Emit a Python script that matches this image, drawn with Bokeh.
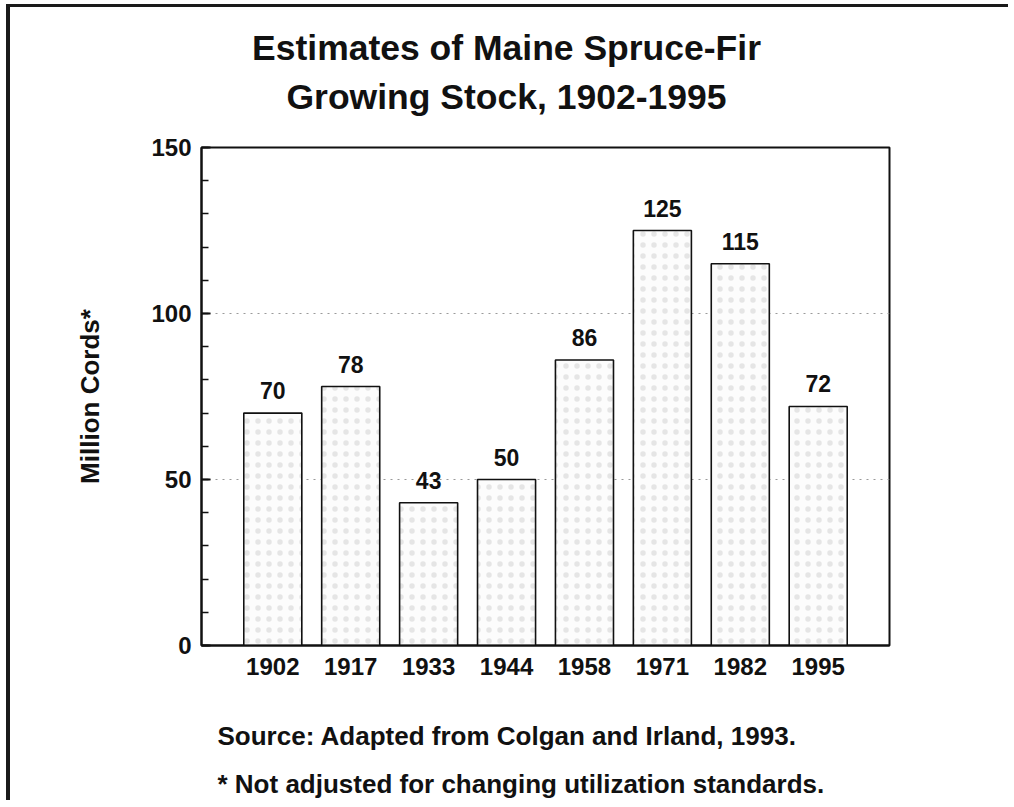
from bokeh.plotting import figure
from bokeh.models import FactorRange, Range1d, SingleIntervalTicker, ColumnDataSource
from bokeh.layouts import column
from bokeh.core.properties import value
from bokeh.embed import file_html
from bokeh.resources import INLINE

years = ["1902", "1917", "1933", "1944", "1958", "1971", "1982", "1995"]
cords = [70, 78, 43, 50, 86, 125, 115, 72]
labels = [str(v) for v in cords]

title_lines = ["Estimates of Maine Spruce-Fir", "Growing Stock, 1902-1995"]
y_label = "Million Cords*"
notes = ["Source:  Adapted from Colgan and Irland, 1993.",
         "* Not adjusted for changing utilization standards."]

FONT = "Liberation Sans"
INK = "#111111"
W = 998
LEFT, RIGHT = 191, 119
TOP = 18
HEAD_H, MAIN_H, FOOT_H = 122, 566, 105


def text_panel(h):
    f = figure(width=W, height=h, x_range=Range1d(LEFT, W - RIGHT), y_range=Range1d(0, h),
               min_border_left=LEFT, min_border_right=RIGHT, min_border_top=0, min_border_bottom=0,
               output_backend="svg", toolbar_location=None)
    f.axis.visible = False
    f.grid.grid_line_color = None
    f.outline_line_color = None
    f.background_fill_color = "white"
    f.border_fill_color = "white"
    return f


# ---- title panel ----
head = text_panel(HEAD_H)
head.text(x=[496, 496], y=[HEAD_H - 40, HEAD_H - 89], text=title_lines,
          text_align="center", text_baseline="middle",
          text_font=value(FONT), text_font_style="bold", text_font_size="35.5px",
          text_color=INK)

# ---- main chart ----
p = figure(
    x_range=FactorRange(factors=years, range_padding=0.415, range_padding_units="absolute"),
    y_range=Range1d(0, 150),
    width=W, height=MAIN_H,
    min_border_left=LEFT, min_border_top=TOP, min_border_right=RIGHT, min_border_bottom=50,
    output_backend="svg", toolbar_location=None,
)
p.background_fill_color = "white"
p.border_fill_color = "white"
p.outline_line_color = INK
p.outline_line_width = 2

src = ColumnDataSource(dict(x=years, top=cords, lab=labels))
p.vbar(x="x", top="top", width=0.745, source=src,
       fill_color="#fcfcfc", line_color=INK, line_width=1.6,
       hatch_pattern="dot", hatch_color="#a0a0a0", hatch_scale=11, hatch_alpha=0.25)
p.text(x="x", y="top", text="lab", source=src, y_offset=-14,
       text_align="center", text_baseline="bottom",
       text_font=value(FONT), text_font_style="bold", text_font_size="23px", text_color=INK)

p.xgrid.grid_line_color = None
p.ygrid.grid_line_color = "#9a9a9a"
p.ygrid.grid_line_dash = "2 5"
p.ygrid.grid_line_width = 1.2

yax = p.yaxis[0]
yax.ticker = SingleIntervalTicker(interval=50, num_minor_ticks=5)
yax.major_tick_in = 9
yax.major_tick_out = 0
yax.minor_tick_in = 7
yax.minor_tick_out = 0
yax.axis_line_width = 2
yax.major_tick_line_width = 2
yax.minor_tick_line_width = 1.5
yax.axis_line_color = INK
yax.major_tick_line_color = INK
yax.minor_tick_line_color = INK
yax.major_label_standoff = 10
yax.major_label_text_font = FONT
yax.major_label_text_font_style = "bold"
yax.major_label_text_font_size = "24px"
yax.major_label_text_color = INK
yax.axis_label = y_label
yax.axis_label_standoff = 43
yax.axis_label_text_font = FONT
yax.axis_label_text_font_style = "bold"
yax.axis_label_text_font_size = "26px"
yax.axis_label_text_color = INK

xax = p.xaxis[0]
xax.major_tick_line_color = None
xax.minor_tick_line_color = None
xax.axis_line_width = 2
xax.axis_line_color = INK
xax.major_label_standoff = 6
xax.major_label_text_font = FONT
xax.major_label_text_font_style = "bold"
xax.major_label_text_font_size = "24px"
xax.major_label_text_color = INK

# ---- notes panel ----
foot = text_panel(FOOT_H)
foot.text(x=[207, 207], y=[65, 17], text=notes,
          text_align="left", text_baseline="middle",
          text_font=value(FONT), text_font_style="bold", text_font_size="26px",
          text_color=INK)

page = column(head, p, foot, spacing=0,
              styles={"margin-left": "6px", "margin-top": "4px",
                      "border-left": "4px solid #1a1a1a", "border-top": "3px solid #1a1a1a"})

open("out.html", "w").write(file_html(page, INLINE))
